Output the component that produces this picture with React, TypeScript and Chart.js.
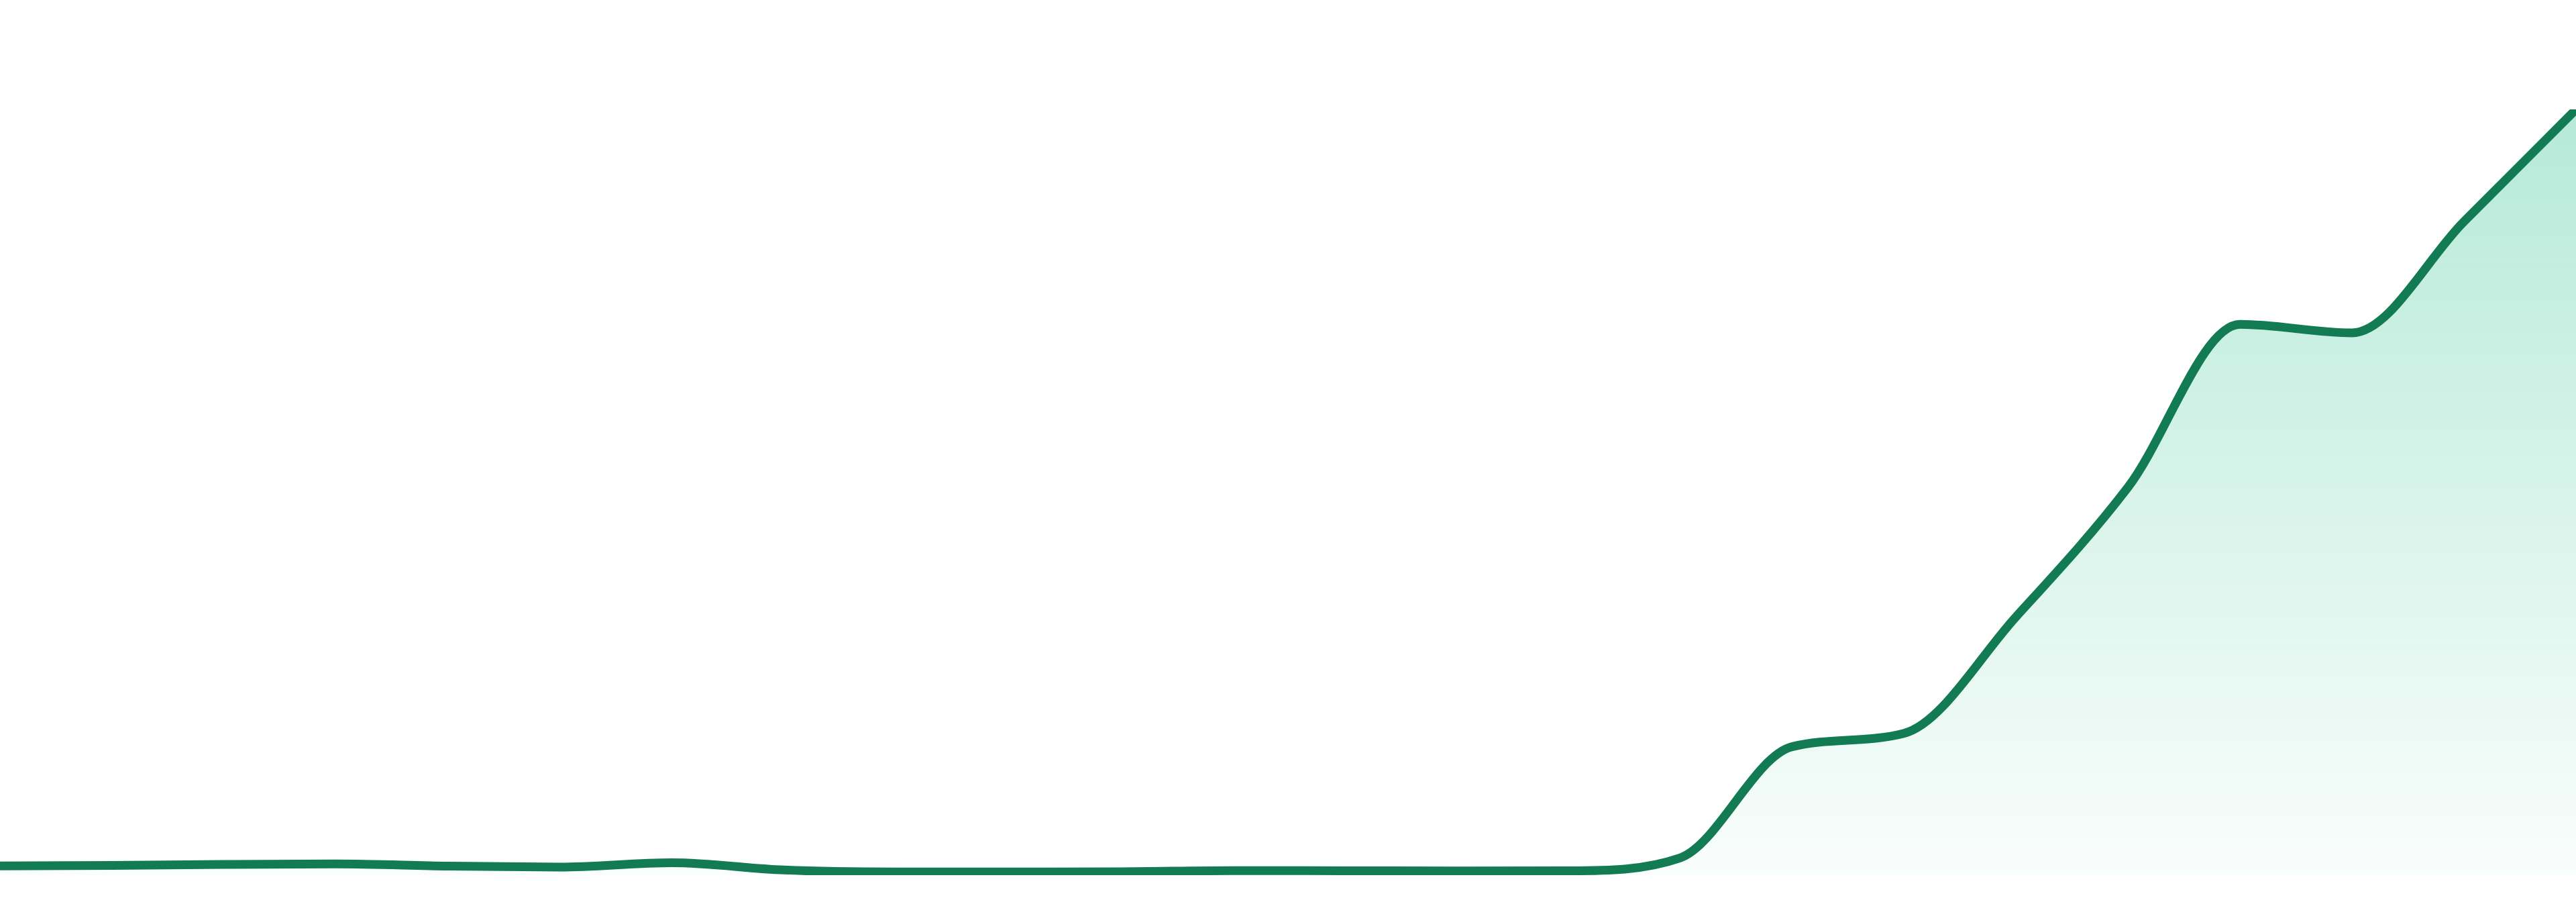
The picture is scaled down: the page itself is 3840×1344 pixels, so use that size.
import React, { useEffect, useRef } from "react";
import { Chart, registerables } from "chart.js";

Chart.register(...registerables);

// Category labels (axis hidden in the reference)
const labels = [
  "W1", "W2", "W3", "W4", "W5", "W6", "W7", "W8",
  "W9", "W10", "W11", "W12", "W13", "W14", "W15", "W16",
  "W17", "W18", "W19", "W20", "W21", "W22", "W23", "W24",
];

// Series values (0–100 scale)
const values = [
  1.2, 1.27, 1.4, 1.47, 1.18, 1.05, 1.62, 0.67,
  0.42, 0.42, 0.44, 0.6, 0.57, 0.55, 0.57, 2.25,
  16.77, 18.52, 33.74, 50.66, 71.93, 70.82, 85.36, 100,
];

const yMin = 0;
const yMax = 100;

const lineColor = "#127b53";

export default function App() {
  const canvasRef = useRef<HTMLCanvasElement | null>(null);

  useEffect(() => {
    document.body.style.margin = "0";
    const canvas = canvasRef.current;
    if (!canvas) return;
    const chart = new Chart(canvas, {
      type: "line",
      data: {
        labels,
        datasets: [
          {
            data: values,
            borderColor: lineColor,
            borderWidth: 13,
            borderJoinStyle: "round",
            pointRadius: 0,
            pointHoverRadius: 0,
            cubicInterpolationMode: "monotone",
            fill: "start",
            backgroundColor: (ctx: any) => {
              const ch = ctx.chart;
              const area = ch.chartArea;
              if (!area) return "rgba(16,185,129,0.2)";
              const g = ch.ctx.createLinearGradient(0, 0, 0, area.bottom);
              g.addColorStop(0, "rgba(16,185,129,0.35)");
              g.addColorStop(1, "rgba(16,185,129,0.025)");
              return g;
            },
          },
        ],
      },
      options: {
        animation: false,
        responsive: true,
        maintainAspectRatio: false,
        devicePixelRatio: 1,
        layout: { padding: { top: 163, bottom: 40, left: 0, right: 0 } },
        plugins: {
          legend: { display: false },
          tooltip: { enabled: false },
        },
        events: [],
        scales: {
          x: { type: "category", display: false, offset: false },
          y: { display: false, min: yMin, max: yMax },
        },
      },
    });
    return () => chart.destroy();
  }, []);

  return (
    <div
      style={{
        position: "fixed",
        left: 0,
        top: 0,
        width: "3840px",
        height: "1344px",
        background: "#ffffff",
      }}
    >
      <canvas ref={canvasRef} />
    </div>
  );
}
